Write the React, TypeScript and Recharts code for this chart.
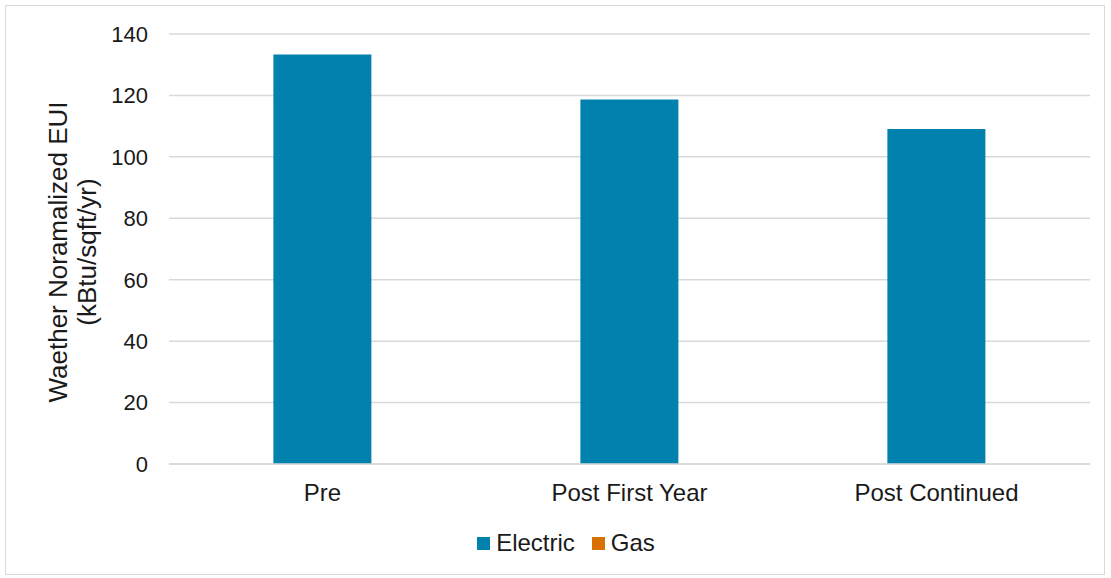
import { BarChart, Bar, XAxis, YAxis, CartesianGrid, Legend } from 'recharts';

const categories = ['Pre', 'Post First Year', 'Post Continued'];
const electric = [133.3, 118.7, 109.1];
const gas = [0, 0, 0];
const yTicks = [0, 20, 40, 60, 80, 100, 120, 140];

const data = categories.map((name, i) => ({ name, Electric: electric[i], Gas: gas[i] }));

const FONT = '"Liberation Sans", Arial, sans-serif';

// two-line rotated axis title
function YTitle() {
  return (
    <text
      transform="rotate(-90) translate(-252, 0)"
      textAnchor="middle"
      fontFamily={FONT}
      fontSize={26}
      fill="#1a1a1a"
    >
      <tspan x={0} y={67}>Waether Noramalized EUI</tspan>
      <tspan x={0} y={96}>(kBtu/sqft/yr)</tspan>
    </text>
  );
}

function LegendBox() {
  const items = [
    { label: 'Electric', color: '#0181ae' },
    { label: 'Gas', color: '#d97100' },
  ];
  return (
    <div style={{ display: 'flex', justifyContent: 'center', gap: 17, fontFamily: FONT, fontSize: 24, lineHeight: '28px', height: 28, color: '#1a1a1a', paddingLeft: 42 }}>
      {items.map((it) => (
        <div key={it.label} style={{ display: 'flex', alignItems: 'center', gap: 6 }}>
          <span style={{ width: 13, height: 13, background: it.color, display: 'inline-block' }} />
          <span>{it.label}</span>
        </div>
      ))}
    </div>
  );
}

export default function App() {
  return (
    <div style={{ position: 'absolute', left: 0, top: 0, width: 1111, height: 578, background: '#fff' }}>
      <div style={{ position: 'absolute', left: 5, top: 5, width: 1100, height: 570, border: '1px solid #d9d9d9', boxSizing: 'border-box' }} />
      <BarChart
        width={1111}
        height={578}
        data={data}
        margin={{ top: 34, right: 21, left: 0, bottom: 0 }}
        barCategoryGap="34%"
      >
        <CartesianGrid vertical={false} stroke="#d9d9d9" strokeWidth={1.5} />
        <XAxis
          dataKey="name"
          height={86}
          axisLine={{ stroke: '#d9d9d9', strokeWidth: 1.5 }}
          tickLine={false}
          tick={{ fontFamily: FONT, fontSize: 24, fill: '#1a1a1a', dy: 12 }}
          interval={0}
        />
        <YAxis
          width={169}
          domain={[0, 140]}
          ticks={yTicks}
          axisLine={false}
          tickLine={false}
          tick={{ fontFamily: FONT, fontSize: 22, fill: '#1a1a1a', dx: -13 }}
          label={<YTitle />}
        />
        <Legend
          verticalAlign="bottom"
          content={<LegendBox />}
          wrapperStyle={{ bottom: 21 }}
        />
        <Bar dataKey="Electric" stackId="a" fill="#0181ae" isAnimationActive={false} />
        <Bar dataKey="Gas" stackId="a" fill="#d97100" isAnimationActive={false} />
      </BarChart>
    </div>
  );
}
